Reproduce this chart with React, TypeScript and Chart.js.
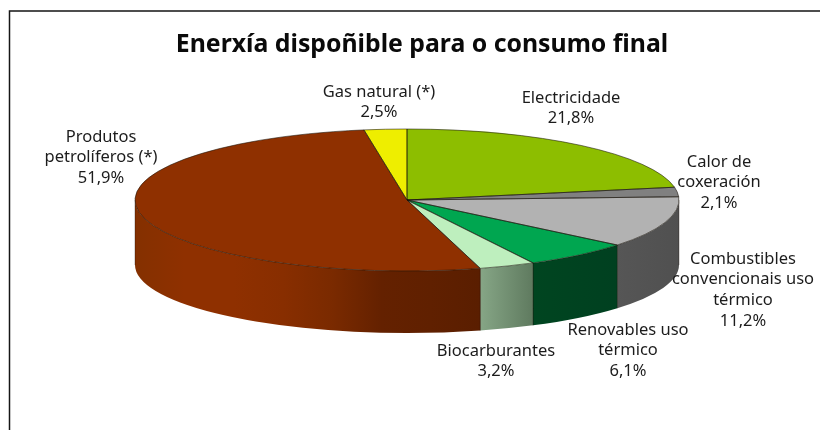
import React, { useEffect, useRef } from "react";
import { Chart, registerables } from "chart.js";

Chart.register(...registerables);

const TITLE = "Enerxía dispoñible para o consumo final";
const categories = ["Electricidade", "Calor de coxeración", "Combustibles convencionais uso térmico", "Renovables uso térmico", "Biocarburantes", "Produtos petrolíferos (*)", "Gas natural (*)"];
const shares = [21.8, 2.1, 11.2, 6.1, 3.2, 51.9, 2.5];
const topColors = ["#8DBE00", "#808080", "#B2B2B2", "#00A650", "#BEEFBE", "#8F3000", "#EEEE00"];
const wallColors: string[][] = [
  ["#6A8E00", "#6A8E00"],
  ["#606060", "#606060"],
  ["#565656", "#505050"],
  ["#004520", "#004020"],
  ["#86A686", "#5F7A5F"],
  ["#843000", "#8F3000", "#8F3000", "#882E00", "#7A2A00", "#642100", "#602000", "#5A1E00"],
  ["#B2B200", "#B2B200"],
];
const labelLines = [
  ["Electricidade", "21,8%"],
  ["Calor de", "coxeración", "2,1%"],
  ["Combustibles", "convencionais uso", "térmico", "11,2%"],
  ["Renovables uso", "térmico", "6,1%"],
  ["Biocarburantes", "3,2%"],
  ["Produtos", "petrolíferos (*)", "51,9%"],
  ["Gas natural (*)", "2,5%"],
];
const labelAnchors = [
  [571, 98], [719, 162], [743, 259], [628, 330], [496, 351], [101, 137], [379, 92],
];

const CX = 407, CY = 200, RX = 272, RY = 71;
const WALL_H = 65, WALL_RY = 68, LINE_H = 20.6;
const LABEL_FONT = '16.5px "Noto Sans"';

// the reference's 3D view stretches the slices nearest the viewer slightly
const warp = (a: number) => {
  const t = a + Math.PI / 2;
  const s = Math.sin(t / 2) ** 2;
  return a + (2.8 * Math.PI / 180) * s * s * s;
};

const pie3d = {
  id: "pie3d",
  beforeDraw(chart: any) {
    const { ctx } = chart;
    ctx.save();
    ctx.strokeStyle = "#151515";
    ctx.lineWidth = 1.5;
    ctx.beginPath();
    ctx.moveTo(9.5, 430);
    ctx.lineTo(9.5, 11);
    ctx.lineTo(820, 11);
    ctx.stroke();
    ctx.restore();
  },
  beforeDatasetsDraw(chart: any) {
    const { ctx } = chart;
    const arcs = chart.getDatasetMeta(0).data;
    arcs.forEach((el: any) => {
      el.$base = el.$base || { s: el.startAngle, e: el.endAngle };
      el.startAngle = warp(el.$base.s);
      el.endAngle = warp(el.$base.e);
      el.circumference = el.endAngle - el.startAngle;
    });
    // side walls: the part of each slice that faces the viewer
    arcs.forEach((el: any, i: number) => {
      const turns = [0, 2 * Math.PI];
      turns.forEach((k) => {
        const a = Math.max(el.startAngle - k, 0);
        const b = Math.min(el.endAngle - k, Math.PI);
        if (b <= a) return;
        const x0 = CX + RX * Math.cos(a), x1 = CX + RX * Math.cos(b);
        const g = ctx.createLinearGradient(Math.min(x0, x1), 0, Math.max(x0, x1), 0);
        const stops = wallColors[i];
        // stops run left to right across the wall
        stops.forEach((c: string, j: number) => g.addColorStop(j / (stops.length - 1), c));
        ctx.save();
        ctx.beginPath();
        ctx.ellipse(CX, CY, RX, RY, 0, a, b);
        ctx.ellipse(CX, CY + WALL_H, RX, WALL_RY, 0, b, a, true);
        ctx.closePath();
        ctx.fillStyle = g;
        ctx.fill();
        ctx.strokeStyle = "rgba(20,10,0,0.55)";
        ctx.lineWidth = 0.6;
        ctx.beginPath();
        ctx.moveTo(x0, CY + RY * Math.sin(a));
        ctx.lineTo(x0, CY + WALL_H + WALL_RY * Math.sin(a));
        ctx.moveTo(x1, CY + RY * Math.sin(b));
        ctx.lineTo(x1, CY + WALL_H + WALL_RY * Math.sin(b));
        ctx.stroke();
        ctx.restore();
      });
    });
    const el = arcs[0];
    ctx.save();
    ctx.translate(CX, CY);
    ctx.scale(RX / el.outerRadius, RY / el.outerRadius);
    ctx.translate(-el.x, -el.y);
  },
  afterDatasetsDraw(chart: any) {
    const { ctx } = chart;
    ctx.restore();
    const arcs = chart.getDatasetMeta(0).data;
    ctx.save();
    ctx.strokeStyle = "rgba(25,20,10,0.7)";
    ctx.lineWidth = 0.8;
    arcs.forEach((el: any) => {
      ctx.beginPath();
      ctx.moveTo(CX, CY);
      ctx.ellipse(CX, CY, RX, RY, 0, el.startAngle, el.endAngle);
      ctx.closePath();
      ctx.stroke();
    });
    ctx.restore();
    ctx.save();
    ctx.font = LABEL_FONT;
    ctx.fillStyle = "#1c1c1c";
    ctx.textAlign = "center";
    ctx.textBaseline = "middle";
    labelLines.forEach((lines, i) => {
      lines.forEach((t, j) => ctx.fillText(t, labelAnchors[i][0], labelAnchors[i][1] + j * LINE_H));
    });
    ctx.restore();
  },
};

export default function App() {
  const ref = useRef<HTMLCanvasElement>(null);
  useEffect(() => {
    const chart = new Chart(ref.current as HTMLCanvasElement, {
      type: "pie",
      data: {
        labels: categories,
        datasets: [{ data: shares, backgroundColor: topColors, borderWidth: 0 }],
      },
      options: {
        responsive: false,
        animation: false,
        layout: { padding: { left: 24, top: 0, right: 0, bottom: 60 } },
        plugins: {
          legend: { display: false },
          tooltip: { enabled: false },
          title: {
            display: true,
            text: TITLE,
            color: "#0a0a0a",
            font: { family: '"Noto Sans"', size: 24.8, weight: "bold" },
            padding: { top: 30, bottom: 10 },
          },
        },
      },
      plugins: [pie3d],
    } as any);
    return () => chart.destroy();
  }, []);
  return (
    <canvas
      ref={ref}
      width={820}
      height={430}
      style={{ position: "absolute", left: 0, top: 0, display: "block" }}
    />
  );
}
